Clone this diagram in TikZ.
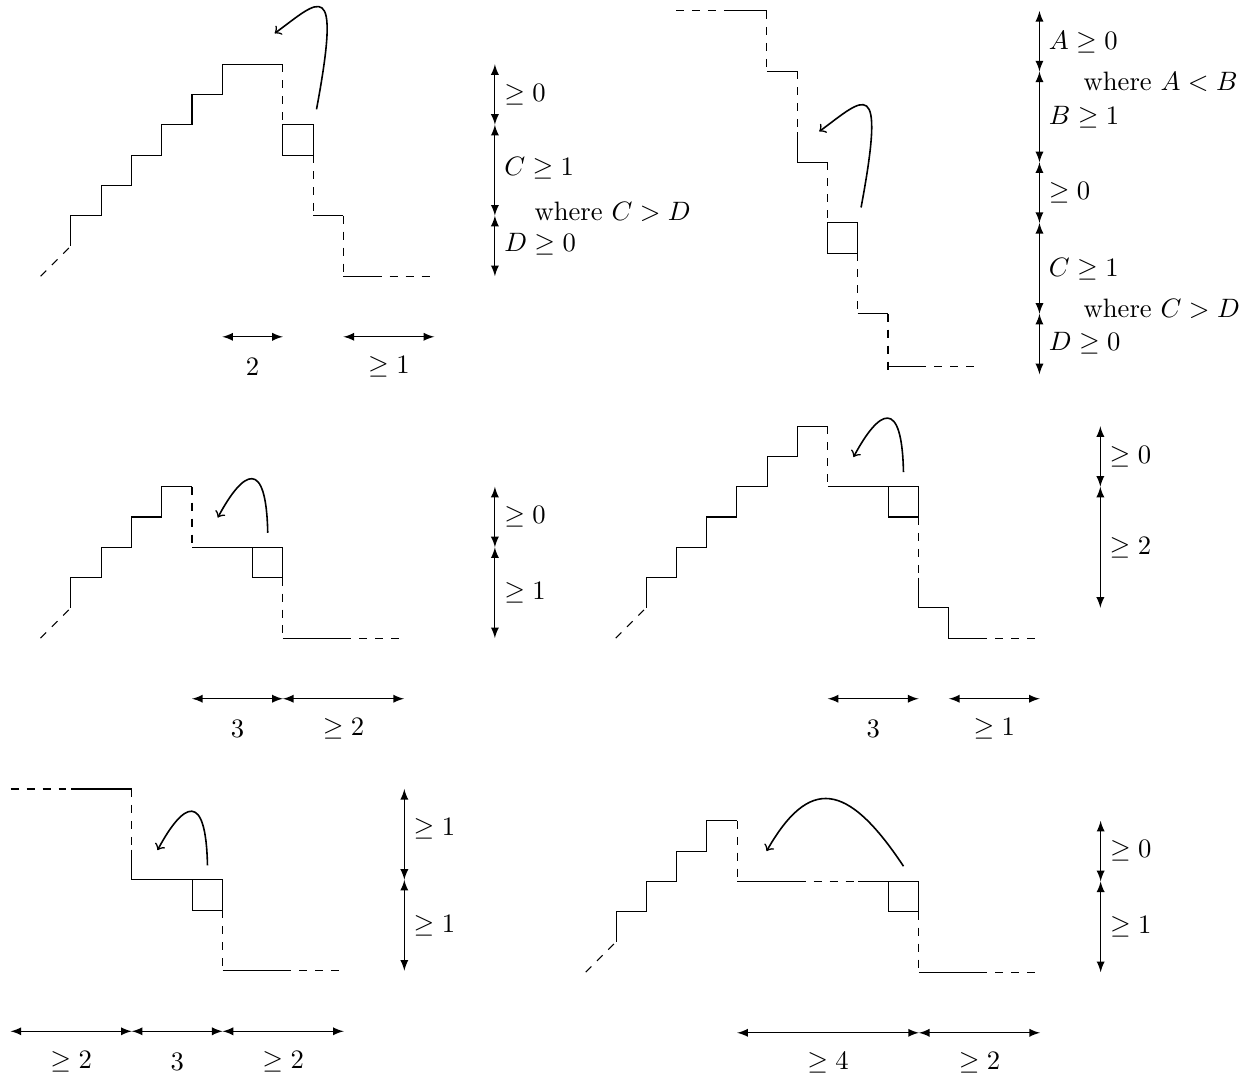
\documentclass[tikz,border=0pt]{standalone}
\usepackage{amssymb}
\begin{document}
\begin{tikzpicture}[x=0.4cm,y=0.4cm,
  dim/.style={latex-latex},
  boxmove/.style={->,semithick}]
  \useasboundingbox (0,0) rectangle (41.47,-35.52);

  \begin{scope}[shift={(2.34,-8.12)}]
    \draw[dashed] (-1,-1)--(0,0);
    \draw (0,0)--(0,1)--(1,1)--(1,2)--(2,2)--(2,3)--(3,3)--(3,4)--(4,4)--(4,5)--(5,5)--(5,6)--(7,6);
    \draw[dashed] (7,6)--(7,4);
    \draw (7,3) rectangle (8,4);
    \draw[dashed] (8,3)--(8,1);
    \draw (8,1)--(9,1);
    \draw[dashed] (9,1)--(9,-1);
    \draw (9,-1)--(10,-1);
    \draw[dashed] (10,-1)--(12,-1);
    \draw[boxmove] (8.11,4.51) .. controls (8.95,9) and (8.2,8.1) .. (6.73,7.02);
    \draw[dim] (5,-3)--(7,-3);
    \draw[dim] (9,-3)--(12,-3);
    \node (p1h1) at (6,-4) {$2$};
    \node (p1h2) at (10.5,-4) {$\geq 1$};
    \draw[dim] (14,6)--(14,4);
    \draw[dim] (14,4)--(14,1);
    \draw[dim] (14,1)--(14,-1);
    \node[right] (p1v1) at (14,5) {$\geq 0$};
    \node[right] (p1v2) at (14,2.55) {$C \geq 1$};
    \node[right] (p1w) at (15,1.12) {where $C > D$};
    \node[right] (p1v3) at (14,0.05) {$D \geq 0$};
  \end{scope}

  \begin{scope}[shift={(25.32,-0.36)}]
    \draw[dashed] (-3,0)--(-1.15,0);
    \draw (-1.15,0)--(0,0);
    \draw[dashed] (0,0)--(0,-2);
    \draw (0,-2)--(1,-2);
    \draw[dashed] (1,-2)--(1,-4);
    \draw (1,-4)--(1,-5)--(2,-5);
    \draw[dashed] (2,-5)--(2,-7);
    \draw (2,-8) rectangle (3,-7);
    \draw[dashed] (3,-8)--(3,-10);
    \draw (3,-10)--(4,-10);
    \draw[dashed] (4,-10)--(4,-12);
    \draw (4,-11.75)--(5,-11.75);
    \draw[dashed] (5,-11.75)--(7,-11.75);
    \draw[boxmove] (3.11,-6.49) .. controls (3.95,-2) and (3.2,-2.9) .. (1.73,-3.98);
    \draw[dim] (9,0)--(9,-2);
    \draw[dim] (9,-2)--(9,-5);
    \draw[dim] (9,-5)--(9,-7);
    \draw[dim] (9,-7)--(9,-10);
    \draw[dim] (9,-10)--(9,-12);
    \node[right] (p2v1) at (9,-1.05) {$A \geq 0$};
    \node[right] (p2w1) at (10.15,-2.33) {where $A < B$};
    \node[right] (p2v2) at (9,-3.52) {$B \geq 1$};
    \node[right] (p2v3) at (9,-6) {$\geq 0$};
    \node[right] (p2v4) at (9,-8.52) {$C \geq 1$};
    \node[right] (p2w2) at (10.15,-9.82) {where $C > D$};
    \node[right] (p2v5) at (9,-10.97) {$D \geq 0$};
  \end{scope}

  \begin{scope}[shift={(2.34,-20.07)}]
    \draw[dashed] (-1,-1)--(0,0);
    \draw (0,0)--(0,1)--(1,1)--(1,2)--(2,2)--(2,3)--(3,3)--(3,4)--(4,4);
    \draw[dashed] (4,4)--(4,2);
    \draw (4,2)--(7,2);
    \draw (6,1) rectangle (7,2);
    \draw[dashed] (7,1)--(7,-1);
    \draw (7,-1)--(9,-1);
    \draw[dashed] (9,-1)--(11,-1);
    \draw[boxmove] (6.5,2.48) .. controls (6.45,4.98) and (5.7,4.56) .. (4.85,2.98);
    \draw[dim] (4,-3)--(7,-3);
    \draw[dim] (7,-3)--(11,-3);
    \node (p3h1) at (5.5,-4) {$3$};
    \node (p3h2) at (9,-4) {$\geq 2$};
    \draw[dim] (14,4)--(14,2);
    \draw[dim] (14,2)--(14,-1);
    \node[right] (p3v1) at (14,3) {$\geq 0$};
    \node[right] (p3v2) at (14,0.5) {$\geq 1$};
  \end{scope}

  \begin{scope}[shift={(21.33,-20.07)}]
    \draw[dashed] (-1,-1)--(0,0);
    \draw (0,0)--(0,1)--(1,1)--(1,2)--(2,2)--(2,3)--(3,3)--(3,4)--(4,4)--(4,5)--(5,5)--(5,6)--(6,6);
    \draw[dashed] (6,6)--(6,4);
    \draw (6,4)--(9,4);
    \draw (8,3) rectangle (9,4);
    \draw[dashed] (9,3)--(9,1);
    \draw (9,1)--(9,0)--(10,0)--(10,-1)--(11,-1);
    \draw[dashed] (11,-1)--(13,-1);
    \draw[boxmove] (8.5,4.48) .. controls (8.45,6.98) and (7.7,6.56) .. (6.85,4.98);
    \draw[dim] (6,-3)--(9,-3);
    \draw[dim] (10,-3)--(13,-3);
    \node (p4h1) at (7.5,-4) {$3$};
    \node (p4h2) at (11.5,-4) {$\geq 1$};
    \draw[dim] (15,6)--(15,4);
    \draw[dim] (15,4)--(15,0);
    \node[right] (p4v1) at (15,5) {$\geq 0$};
    \node[right] (p4v2) at (15,2) {$\geq 2$};
  \end{scope}

  \begin{scope}[shift={(4.35,-29.05)}]
    \draw[dashed] (-4,3)--(-2,3);
    \draw (-2,3)--(0,3);
    \draw[dashed] (0,3)--(0,1);
    \draw (0,1)--(0,0)--(3,0);
    \draw (2,-1) rectangle (3,0);
    \draw[dashed] (3,-1)--(3,-3);
    \draw (3,-3)--(5,-3);
    \draw[dashed] (5,-3)--(7,-3);
    \draw[boxmove] (2.5,0.48) .. controls (2.45,2.98) and (1.7,2.56) .. (0.85,0.98);
    \draw[dim] (-4,-5)--(0,-5);
    \draw[dim] (0,-5)--(3,-5);
    \draw[dim] (3,-5)--(7,-5);
    \node (p5h1) at (-2,-6) {$\geq 2$};
    \node (p5h2) at (1.5,-6) {$3$};
    \node (p5h3) at (5,-6) {$\geq 2$};
    \draw[dim] (9,3)--(9,0);
    \draw[dim] (9,0)--(9,-3);
    \node[right] (p5v1) at (9,1.7) {$\geq 1$};
    \node[right] (p5v2) at (9,-1.5) {$\geq 1$};
  \end{scope}

  \begin{scope}[shift={(20.34,-31.10)}]
    \draw[dashed] (-1,-1)--(0,0);
    \draw (0,0)--(0,1)--(1,1)--(1,2)--(2,2)--(2,3)--(3,3)--(3,4)--(4,4);
    \draw[dashed] (4,4)--(4,2);
    \draw (4,2)--(6,2);
    \draw[dashed] (6,2)--(8,2);
    \draw (8,2)--(10,2);
    \draw (9,1) rectangle (10,2);
    \draw[dashed] (10,1)--(10,-1);
    \draw (10,-1)--(12,-1);
    \draw[dashed] (12,-1)--(14,-1);
    \draw[boxmove] (9.49,2.5) .. controls (7.62,5.32) and (6.37,5.44) .. (4.97,3.0);
    \draw[dim] (4,-3)--(10,-3);
    \draw[dim] (10,-3)--(14,-3);
    \node (p6h1) at (7,-4) {$\geq 4$};
    \node (p6h2) at (12,-4) {$\geq 2$};
    \draw[dim] (16,4)--(16,2);
    \draw[dim] (16,2)--(16,-1);
    \node[right] (p6v1) at (16,3) {$\geq 0$};
    \node[right] (p6v2) at (16,0.5) {$\geq 1$};
  \end{scope}
\end{tikzpicture}
\end{document}
